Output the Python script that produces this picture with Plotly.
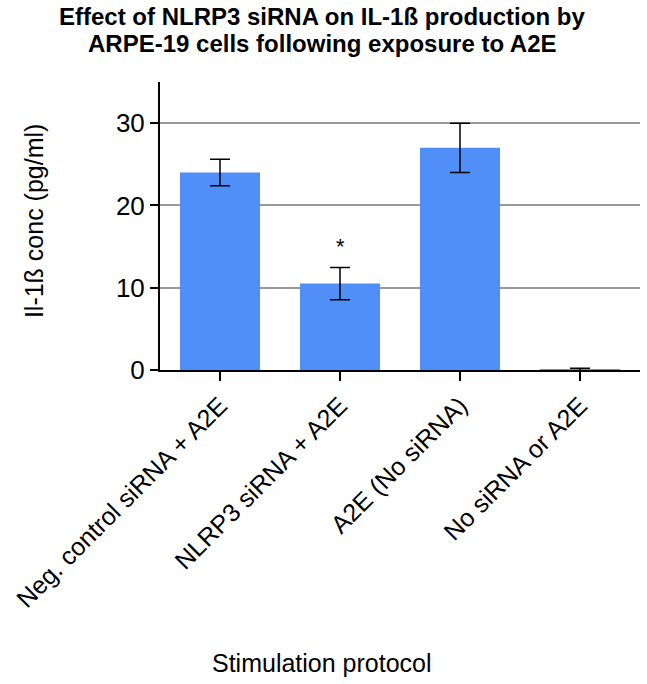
import plotly.graph_objects as go

categories = ["Neg. control siRNA + A2E", "NLRP3 siRNA + A2E", "A2E (No siRNA)", "No siRNA or A2E"]
values = [24.0, 10.5, 27.0, 0.05]
errors = [1.6, 1.95, 3.0, 0.15]
y_ticks = [0, 10, 20, 30]
title_lines = ["Effect of NLRP3 siRNA on IL-1ß production by", "ARPE-19 cells following exposure to A2E"]

FONT = "Liberation Sans, Arial, Helvetica"

fig = go.Figure()
fig.add_trace(go.Bar(
    x=categories, y=values,
    marker=dict(color="#4f8ff7", line=dict(width=0)),
    width=0.667,
    error_y=dict(type="data", array=errors, visible=True, color="black", thickness=1.5, width=10),
))
fig.add_annotation(x=categories[1], y=15, text="*", showarrow=False,
                   font=dict(size=22, color="black", family=FONT))

# title lines
for txt, yy in zip(title_lines, [1.229, 1.135]):
    fig.add_annotation(xref="paper", yref="paper", x=0.3375, y=yy, xanchor="center", yanchor="middle",
                       text="<b>" + txt + "</b>", showarrow=False,
                       font=dict(size=24, color="black", family=FONT))
# axis titles
fig.add_annotation(xref="paper", yref="paper", x=0.3375, y=-1.017, xanchor="center", yanchor="middle",
                   text="Stimulation protocol", showarrow=False,
                   font=dict(size=25, color="black", family=FONT))
fig.add_annotation(xref="paper", yref="paper", x=-0.2625, y=0.517, xanchor="center", yanchor="middle",
                   text="Il-1ß conc (pg/ml)", textangle=-90, showarrow=False,
                   font=dict(size=25, color="black", family=FONT))

fig.update_layout(
    width=647, height=684,
    margin=dict(l=160, r=7, t=82, b=314),
    paper_bgcolor="white", plot_bgcolor="white",
    showlegend=False,
    font=dict(family=FONT, color="black"),
    xaxis=dict(
        range=[-0.5, 3.5], showline=True, linecolor="black", linewidth=2,
        ticks="outside", ticklen=9, tickwidth=1.5, tickcolor="black",
        tickangle=-45, tickfont=dict(size=25, color="black"),
        showgrid=False,
    ),
    yaxis=dict(
        range=[0, 35], tickvals=y_ticks, showline=True, linecolor="black", linewidth=2,
        ticks="outside", ticklen=8, tickwidth=1.5, tickcolor="black",
        tickfont=dict(size=26, color="black"),
        showgrid=True, gridcolor="#999999", gridwidth=1.5, zeroline=False,
    ),
)
fig.write_html("out.html", config={"displayModeBar": False},
               post_script="document.body.style.margin='0';document.body.style.overflow='hidden';")
